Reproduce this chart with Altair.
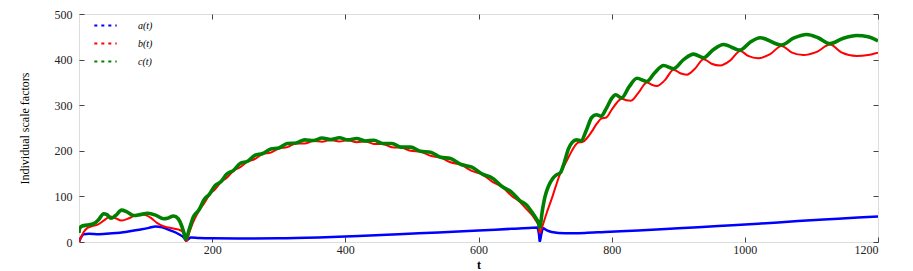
import altair as alt
import pandas as pd

# a(t) blue
a_t = [0,3,7,15,30,50,70,90,105,115,125,138,150,158,161,164,168,180,200,240,300,360,420,480,540,600,650,680,688,691,692,694,697,702,710,730,760,790,840,900,960,1020,1080,1140,1200]
a_v = [0,10,17,18,17,19,22,27,31,34,32,25,17,9,3,6,10,9,8,7.5,8,10,13,17,21,25,29,31,32,15,0,15,30,26,22,19,20,22,25,30,35,40,46,51,56]

# b(t) red
b_t1 = [0,3,7,12,20,28,38,47,55,64,75,85,93,100,108,117,128,140,150,156,159,161]
b_v1 = [0,10,22,30,35,38,48,56,52,47,52,59,61,59,53,42,34,30,27,22,10,1]
arch_t = [166,172,180,188,196,204,213,222,232,242,253,264,276,288,300,313,326,339,352,365,378,391,404,417,430,443,456,470,484,498,513,528,543,558,574,590,606,621,636,650,662,672,680,686,690]
b_v2 = [22,45,68,85,104,115,131,141,156,164,176,182,193,196,205,208,216,216,221.5,220,223.5,220.5,223,219,220.5,215,215,208,207,200,198,189,185,175,169,156,148,132,120,101,88,72,60,47,36]
b_t3 = [692,696,702,710,716,722,729,736,743,750,756,763,770,778,785,792,800,808,815,822,829,840,853,860,868,880,893,903,913,925,938,950,963,978,993,1005,1020,1038,1055,1070,1088,1108,1128,1145,1168,1185,1200]
b_v3 = [20,35,62,95,122,147,168,188,207,218,219,228,242,260,271,273,290,306,314,311,310,327,350,345,342,355,378,370,367,380,401,391,387,398,419,408,403,412,430,416,410,417,433,416,408,410,415]

# c(t) green
c_t1 = [0,1,5,12,22,30,37,42,48,55,64,72,82,92,103,115,127,133,142,149,155,158,160]
c_v1 = [20,30,35,37,40,50,62,60,52,58,70,66,58,60,63,59,51,52,57,51,32,18,6]
c_v2 = [30,56,70,93,105,123,132,149,157,172,177,190,194,204,206,216,217,224,222.5,228,224.5,228.5,224,227,221.5,223,216,216,208,208,199,197,186,183,170,164,149,140,121,109,91,81,66,53,42]
c_t3 = [692,696,700,705,711,717,723,729,735,741,747,754,762,770,777,784,792,800,806,815,826,838,853,864,878,893,908,923,938,952,968,993,1008,1023,1055,1073,1093,1110,1128,1148,1168,1185,1200]
c_v3 = [32,70,100,122,138,147,152,175,204,219,224,222,245,273,279,276,293,315,323,316,340,359,352,370,387,380,400,412,404,421,433,421,438,448,432,447,455,448,435,447,453,450,441]

series_names = ["a(t)", "b(t)", "c(t)"]
series_colors = ["#0000ff", "#ff0000", "#008000"]
x_ticks = [200, 400, 600, 800, 1000, 1200]
y_ticks = [0, 100, 200, 300, 400, 500]

dfa = pd.DataFrame({"t": a_t, "v": a_v, "s": series_names[0]})
dfb = pd.DataFrame({"t": b_t1 + arch_t + b_t3, "v": b_v1 + b_v2 + b_v3, "s": series_names[1]})
dfc = pd.DataFrame({"t": c_t1 + arch_t + c_t3, "v": c_v1 + c_v2 + c_v3, "s": series_names[2]})

FONT = "Liberation Serif"
color_scale = alt.Scale(domain=series_names, range=series_colors)
xs = alt.Scale(domain=[0, 1200], nice=False, zero=False)
ys = alt.Scale(domain=[0, 500], nice=False, zero=True)

inward = {"expr": "-5"}

x_main = alt.X("t:Q", scale=xs, axis=alt.Axis(
    values=x_ticks, format="d", title="t", tickSize=inward, labelPadding=7, domain=False,
    grid=False, labelFont=FONT, labelFontSize=12, labelColor="#222",
    titleFont=FONT, titleFontSize=12, titleFontWeight="bold", titleColor="#000",
    titleY=22, titleBaseline="middle", tickColor="#444"))
y_main = alt.Y("v:Q", scale=ys, axis=alt.Axis(
    values=y_ticks, format="d", title="Individual scale factors", tickSize=inward, labelPadding=12,
    domain=False, grid=False, labelFont=FONT, labelFontSize=12, labelColor="#222",
    titleFont=FONT, titleFontSize=12, titleFontWeight="normal", titleColor="#000",
    titleX=-55, titleY=114, titleBaseline="middle", titleAlign="center", tickColor="#444"))

x_top = alt.X("t:Q", scale=xs, axis=alt.Axis(
    orient="top", values=x_ticks, labels=False, title=None, tickSize=inward, domain=False,
    grid=False, tickColor="#444"))
y_right = alt.Y("v:Q", scale=ys, axis=alt.Axis(
    orient="right", values=y_ticks, labels=False, title=None, tickSize=inward, domain=False,
    grid=False, tickColor="#444"))

legend = alt.Legend(
    title=None, orient="none", legendX=14, legendY=-1, padding=0,
    symbolType="stroke", symbolSize=500, symbolStrokeWidth=2.2, symbolDash=[3, 4],
    labelFont=FONT, labelFontStyle="italic", labelFontSize=10, labelOffset=20,
    rowPadding=0)

blue = alt.Chart(dfa).mark_line(interpolate="monotone", strokeWidth=2.5, clip=True).encode(
    x=x_main, y=y_main,
    color=alt.Color("s:N", scale=color_scale, legend=legend), order="t:Q")
red = alt.Chart(dfb).mark_line(interpolate="monotone", strokeWidth=2, clip=True).encode(
    x=alt.X("t:Q", scale=xs, axis=None), y=alt.Y("v:Q", scale=ys, axis=None),
    color=alt.Color("s:N", scale=color_scale, legend=legend), order="t:Q")
green = alt.Chart(dfc).mark_line(interpolate="monotone", strokeWidth=3.6, clip=True).encode(
    x=x_top, y=y_right,
    color=alt.Color("s:N", scale=color_scale, legend=legend), order="t:Q")

chart = alt.layer(blue, red, green).resolve_axis(x="independent", y="independent").properties(
    width=799, height=228,
    autosize=alt.AutoSizeParams(type="none"),
    padding={"left": 71, "top": 6, "right": 20, "bottom": 28},
).configure_view(stroke="#000", strokeWidth=1.3).configure(background="white")

chart.save("out.html", embed_options={"renderer": "svg", "actions": False})
